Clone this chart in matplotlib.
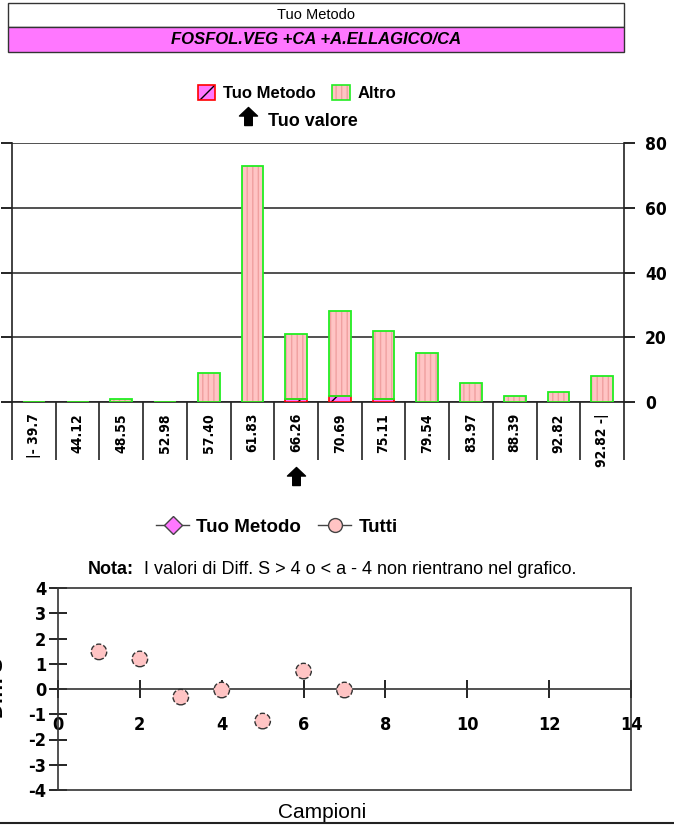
import matplotlib
matplotlib.use('Agg')
import matplotlib.pyplot as plt
import matplotlib.patches as mpatches
import matplotlib.transforms as mtransforms
from matplotlib.lines import Line2D
from matplotlib.path import Path
from matplotlib.legend_handler import HandlerTuple
from matplotlib import font_manager

plt.rcParams['font.family'] = ['Liberation Sans', 'DejaVu Sans']
plt.rcParams['axes.unicode_minus'] = False

# font stretto per i numeri, se disponibile
nomi = {f.name for f in font_manager.fontManager.ttflist}
if 'Liberation Sans Narrow' in nomi:
    NARROW = 'Liberation Sans Narrow'
    STRETCH = 'normal'
else:
    NARROW = 'DejaVu Sans'
    STRETCH = 'condensed'

# dati istogramma
classi = ['|- 39.7', '44.12', '48.55', '52.98', '57.40', '61.83', '66.26',
          '70.69', '75.11', '79.54', '83.97', '88.39', '92.82', '92.82 -|']
tuo_metodo = [0, 0, 0, 0, 0, 0, 1, 2, 1, 0, 0, 0, 0, 0]
altro = [0, 0, 1, 0, 9, 73, 20, 26, 21, 15, 6, 2, 3, 8]
tuo_valore_idx = 6

# dati grafico campioni
campioni = [1, 2, 3, 4, 5, 6, 7]
diff_s = [1.47, 1.19, -0.32, -0.04, -1.27, 0.71, -0.04]

PINK = '#FFC4C4'
STRIPE = '#F0A0A0'
GREEN = '#22EE22'
MAGENTA = '#FF77FF'

# freccia piena
freccia = Path([(0, 1), (1, 0.05), (0.42, 0.05), (0.42, -1), (-0.42, -1),
                (-0.42, 0.05), (-1, 0.05), (0, 1)],
               [Path.MOVETO] + [Path.LINETO] * 6 + [Path.CLOSEPOLY])

fig = plt.figure(figsize=(6.74, 8.25), dpi=100)

# intestazione
fig.patches.append(mpatches.Rectangle((8/674, 1-27/825), 616/674, 24/825,
                   transform=fig.transFigure, facecolor='white', edgecolor='#333333', lw=1))
fig.patches.append(mpatches.Rectangle((8/674, 1-52/825), 616/674, 25/825,
                   transform=fig.transFigure, facecolor=MAGENTA, edgecolor='#333333', lw=1))
fig.text(316/674, 1-15/825, 'Tuo Metodo', ha='center', va='center', fontsize=10.5)
fig.text(316/674, 1-40/825, 'FOSFOL.VEG +CA +A.ELLAGICO/CA', ha='center', va='center',
         fontsize=12, fontweight='bold', fontstyle='italic')

# istogramma
ax = fig.add_axes([12/674, 1-402/825, 612/674, 259/825])
x = list(range(len(classi)))
ax.bar(x, tuo_metodo, width=0.5, color=MAGENTA, hatch='/', edgecolor='black', lw=0, zorder=3)
ax.bar(x, tuo_metodo, width=0.5, fill=False, edgecolor='red', lw=1.2, zorder=4)
ax.bar(x, altro, width=0.5, bottom=tuo_metodo, color=PINK, hatch='|||', edgecolor=STRIPE, lw=0, zorder=3)
ax.bar(x, altro, width=0.5, bottom=tuo_metodo, fill=False, edgecolor=GREEN, lw=1.3, zorder=4)

ax.set_xlim(-0.5, len(classi) - 0.5)
ax.set_ylim(0, 80)
ax.set_yticks([0, 20, 40, 60, 80])
ax.yaxis.grid(True, color='#333333', lw=1.2)
ax.set_axisbelow(True)
ax.spines['top'].set_visible(False)
for s in ['left', 'right', 'bottom']:
    ax.spines[s].set_color('#222222')
    ax.spines[s].set_linewidth(1.2)
ax.tick_params(axis='y', left=True, right=True, labelleft=False, labelright=True,
               direction='out', length=8, width=1.2, pad=7)
for t in ax.get_yticklabels():
    t.set_fontfamily(NARROW)
    t.set_fontstretch(STRETCH)
    t.set_fontweight('bold')
    t.set_fontsize(12.5)
ax.set_xticks(x)
ax.set_xticklabels(classi, rotation=90, va='top')
for t in ax.get_xticklabels():
    t.set_fontfamily(NARROW)
    t.set_fontstretch(STRETCH)
    t.set_fontweight('bold')
    t.set_fontsize(10)
ax.tick_params(axis='x', which='major', length=0, pad=8)
ax.set_xticks([i + 0.5 for i in x[:-1]] + [-0.5, len(classi) - 0.5], minor=True)
ax.tick_params(axis='x', which='minor', length=42, width=1.2, color='#222222')

trans = mtransforms.blended_transform_factory(ax.transData, ax.transAxes)
ax.plot([tuo_valore_idx], [-0.285], marker=freccia, markersize=13, color='black',
        transform=trans, clip_on=False)

tm_fill = mpatches.Patch(facecolor=MAGENTA, hatch='/', edgecolor='black', lw=0)
tm_edge = mpatches.Patch(fill=False, edgecolor='red', lw=1.2)
al_fill = mpatches.Patch(facecolor=PINK, hatch='|||', edgecolor=STRIPE, lw=0)
al_edge = mpatches.Patch(fill=False, edgecolor=GREEN, lw=1.2)
fig.legend(handles=[(tm_fill, tm_edge), (al_fill, al_edge)], labels=['Tuo Metodo', 'Altro'],
           handler_map={tuple: HandlerTuple(ndivide=1, pad=0)}, loc='center',
           bbox_to_anchor=(297/674, 1-93/825), ncol=2, frameon=False,
           prop={'weight': 'bold', 'size': 12}, handlelength=1.05, handleheight=1.0,
           columnspacing=1.0, handletextpad=0.45)
fig.add_artist(Line2D([248/674], [1-116/825], marker=freccia, markersize=13, color='black',
                      transform=fig.transFigure))
fig.text(268/674, 1-122/825, 'Tuo valore', ha='left', va='center', fontsize=13, fontweight='bold')

# grafico campioni
lg = [Line2D([], [], color='#444444', marker='D', markersize=9, markerfacecolor=MAGENTA,
             markeredgecolor='#444444', lw=1),
      Line2D([], [], color='#444444', marker='o', markersize=10, markerfacecolor=PINK,
             markeredgecolor='#444444', lw=1)]
fig.legend(handles=lg, labels=['Tuo Metodo', 'Tutti'], loc='center',
           bbox_to_anchor=(277/674, 1-527/825), ncol=2, frameon=False,
           prop={'weight': 'bold', 'size': 13.5}, handlelength=1.75, columnspacing=0.9,
           handletextpad=0.4)
nota = fig.text(88/674, 1-570/825, 'Nota:', fontweight='bold', fontsize=13, va='center')
fig.add_artist(matplotlib.text.Annotation(
    'I valori di Diff. S > 4 o < a - 4 non rientrano nel grafico.',
    xy=(1, 0.5), xycoords=nota, xytext=(7, 0), textcoords='offset points',
    va='center', fontsize=13))

ax2 = fig.add_axes([58/674, 1-790/825, 573/674, 202/825])
ax2.scatter(campioni, diff_s, s=125, facecolor=PINK, edgecolor='#333333', linewidths=1,
            linestyles='--', zorder=3, clip_on=False)
ax2.set_xlim(0, 14)
ax2.set_ylim(-4, 4)
ax2.set_xticks(range(0, 15, 2))
ax2.set_yticks(range(-4, 5))
for s in ['left', 'right', 'top', 'bottom']:
    ax2.spines[s].set_color('#333333')
    ax2.spines[s].set_linewidth(1.2)
ax2.spines['bottom'].set_position(('data', 0))
ax2.axhline(-4, color='#333333', lw=1.2, clip_on=False)
ax2.tick_params(axis='x', direction='inout', length=13, width=1.2, pad=13)
ax2.tick_params(axis='y', direction='inout', length=13, width=1.2, pad=2)
for t in ax2.get_xticklabels() + ax2.get_yticklabels():
    t.set_fontfamily(NARROW)
    t.set_fontstretch(STRETCH)
    t.set_fontweight('bold')
    t.set_fontsize(13)
fig.text(322/674, 1-812/825, 'Campioni', ha='center', va='center', fontsize=15)
fig.text(-0.004, 1-688/825, 'Diff. S', rotation=90, ha='center', va='center',
         fontsize=15, fontweight='bold')
fig.add_artist(Line2D([0, 1], [1-823/825, 1-823/825], transform=fig.transFigure,
                      color='#222222', lw=1.5))

fig.savefig('out.png', dpi=100)
